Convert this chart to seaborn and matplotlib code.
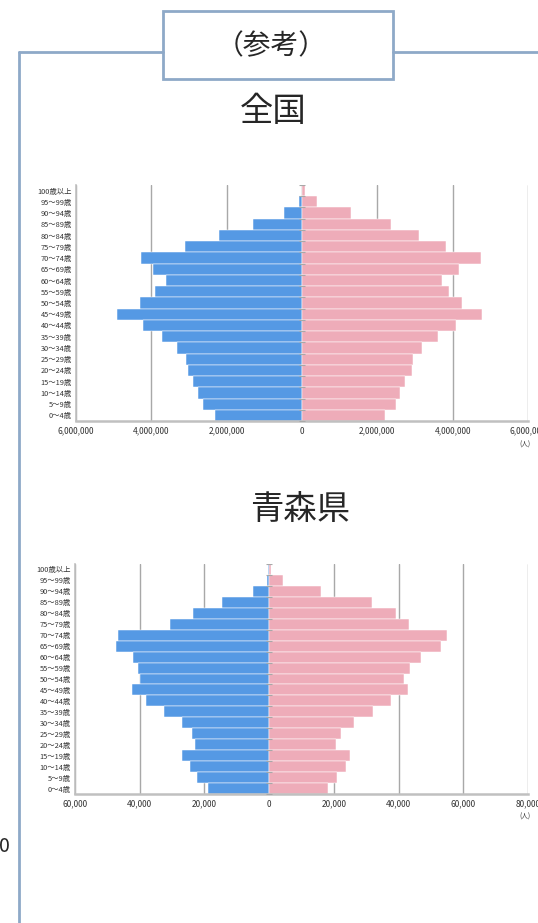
import matplotlib
matplotlib.use("Agg")
import matplotlib.pyplot as plt
import matplotlib.ticker as mticker
from matplotlib.patches import Rectangle
import seaborn as sns
import pandas as pd

# 年齢階級（上から順）
ages = ["100歳以上", "95～99歳", "90～94歳", "85～89歳", "80～84歳", "75～79歳",
        "70～74歳", "65～69歳", "60～64歳", "55～59歳", "50～54歳", "45～49歳",
        "40～44歳", "35～39歳", "30～34歳", "25～29歳", "20～24歳", "15～19歳",
        "10～14歳", "5～9歳", "0～4歳"]

# 全国（人）
japan_male = [10000, 72000, 475000, 1300000, 2200000, 3110000, 4280000, 3950000,
              3610000, 3890000, 4310000, 4900000, 4220000, 3720000, 3310000,
              3090000, 3030000, 2890000, 2750000, 2620000, 2310000]
japan_female = [71000, 398000, 1290000, 2360000, 3110000, 3830000, 4760000, 4170000,
                3710000, 3900000, 4260000, 4790000, 4100000, 3610000, 3190000,
                2960000, 2910000, 2730000, 2600000, 2490000, 2200000]

# 青森県（人）
aomori_male = [200, 700, 4900, 14700, 23500, 30600, 46800, 47400, 42200, 40600,
               40000, 42300, 38100, 32400, 26900, 23700, 22900, 26800, 24500,
               22200, 18800]
aomori_female = [500, 4400, 16100, 31900, 39100, 43100, 54900, 53000, 46900, 43500,
                 41700, 42800, 37700, 32200, 26200, 22100, 20800, 25000, 23600,
                 21100, 18300]

sns.set_style("white")
plt.rcParams['font.family'] = ['Noto Sans CJK JP', 'DejaVu Sans']

BLUE = "#5599e4"
PINK = "#eeacb9"
FRAME = "#8ea9c8"
W, H = 538, 923

fig = plt.figure(figsize=(W / 100, H / 100), dpi=100)


def fx(px):
    return px / W


def fy(py):
    return 1 - py / H


def pyramid(rect, male, female, xmin, xmax, step):
    ax = fig.add_axes(rect)
    df = pd.DataFrame({"age": ages, "male": [-v for v in male], "female": female})
    sns.barplot(data=df, x="male", y="age", order=ages, color=BLUE, width=1.0,
                edgecolor="white", linewidth=0.35, saturation=1, ax=ax)
    sns.barplot(data=df, x="female", y="age", order=ages, color=PINK, width=1.0,
                edgecolor="white", linewidth=0.35, saturation=1, ax=ax)
    ax.set_xlim(xmin, xmax)
    ax.set_ylim(len(ages) - 0.5, -0.5)
    ax.set_xticks(range(xmin, xmax + 1, step))
    ax.xaxis.set_major_formatter(mticker.FuncFormatter(lambda v, p: f"{abs(int(v)):,}"))
    ax.grid(axis="x", color="#a8a8a8", linewidth=1)
    ax.set_axisbelow(True)
    ax.axvline(0, color="#a8a8a8", linewidth=1, zorder=0.5)
    # 中央の目盛り
    ax.plot([0] * (len(ages) + 1), [i - 0.5 for i in range(len(ages) + 1)],
            linestyle="none", marker="_", markersize=4, color="#a8a8a8",
            markeredgewidth=0.8, zorder=3)
    for s in ["top", "right"]:
        ax.spines[s].set_visible(False)
    ax.spines["left"].set_color("#c0c0c0")
    ax.spines["left"].set_linewidth(1.2)
    ax.spines["bottom"].set_color("#c0c0c0")
    ax.spines["bottom"].set_linewidth(1.8)
    ax.tick_params(axis="y", length=0, pad=3, labelsize=5.3, labelcolor="#333333")
    ax.tick_params(axis="x", length=0, pad=4, labelsize=6, labelcolor="#333333")
    ax.set_xlabel("")
    ax.set_ylabel("")
    return ax


ax1 = pyramid([fx(76), fy(421), fx(452), 236 / H], japan_male, japan_female,
              -6000000, 6000000, 2000000)
ax2 = pyramid([fx(75), fy(794), fx(453), 230 / H], aomori_male, aomori_female,
              -60000, 80000, 20000)

# 単位
fig.text(fx(525), fy(445), "(人)", fontsize=4.8, ha="center", va="center", color="#333333")
fig.text(fx(525), fy(817), "(人)", fontsize=4.8, ha="center", va="center", color="#333333")

# 枠線と見出し
fig.add_artist(plt.Line2D([fx(19), fx(163)], [fy(52), fy(52)], color=FRAME, linewidth=2))
fig.add_artist(plt.Line2D([fx(393), fx(538)], [fy(52), fy(52)], color=FRAME, linewidth=2))
fig.add_artist(plt.Line2D([fx(19), fx(19)], [fy(52), fy(923)], color=FRAME, linewidth=2))
fig.add_artist(Rectangle((fx(163), fy(79)), fx(230), 68 / H, facecolor="white",
                         edgecolor=FRAME, linewidth=2, transform=fig.transFigure))
fig.text(fx(271), fy(46), "（参考）", fontsize=20, ha="center", va="center")
fig.text(fx(273), fy(112), "全国", fontsize=24, ha="center", va="center")
fig.text(fx(300), fy(510), "青森県", fontsize=24, ha="center", va="center")
fig.text(fx(-1), fy(846), "0", fontsize=14, ha="left", va="center")

fig.savefig("out.png", dpi=100)
